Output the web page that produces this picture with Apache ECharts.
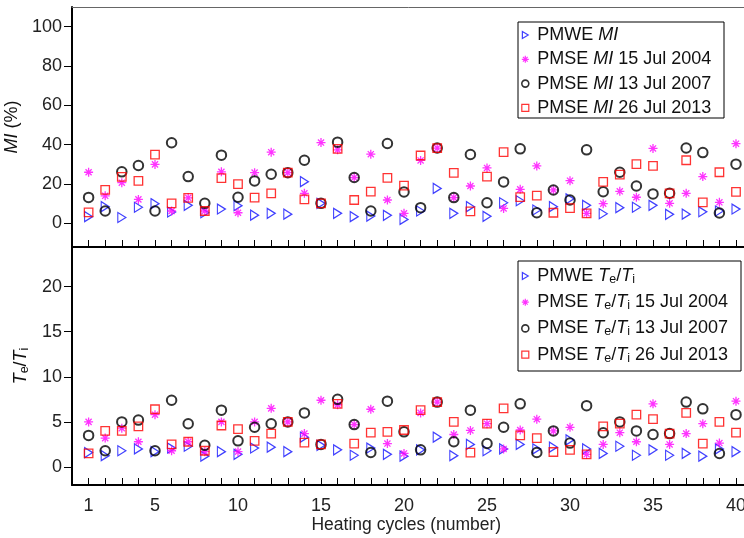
<!DOCTYPE html>
<html>
<head>
<meta charset="utf-8">
<script src="https://cdn.jsdelivr.net/npm/echarts@6/dist/echarts.min.js"></script>
<style>
  html, body { margin: 0; padding: 0; background: #fff; }
  #chart { width: 744px; height: 538px; }
</style>
</head>
<body>
<div id="chart"></div>
<script>
// Heating cycle numbers (x axis)
const cycles = [1, 2, 3, 4, 5, 6, 7, 8, 9, 10, 11, 12, 13, 14, 15, 16, 17, 18, 19, 20,
                21, 22, 23, 24, 25, 26, 27, 28, 29, 30, 31, 32, 33, 34, 35, 36, 37, 38, 39, 40];
const xTickLabels = [1, 5, 10, 15, 20, 25, 30, 35, 40];
const miTicks = [0, 20, 40, 60, 80, 100];
const teTicks = [0, 5, 10, 15, 20];

// Modulation index MI (%)
const miPMWE = [3.4, 8.5, 3, 8.2, 10, 5.8, 9.2, 5.4, 7.3, 9, 4.2, 5.1, 4.7, 21.2, 10.2, 5.1, 3.4, 3.7, 4.1, 2,
                6.3, 17.8, 5.1, 8.5, 3.6, 10.5, 11.5, 6.8, 8.5, 12.5, 9.2, 4.9, 8, 8.2, 9.2, 4.6, 4.7, 5.9, 6.3, 7.3];
const miPMSE2004 = [26, 14, 20.7, 12.2, 30, 6.3, 13, 6.3, 26.2, 5.4, 25.8, 36.2, 25.8, 15.3, 41.1, 37.4, 23.3, 35.2, 11.9, 5.1,
                    32, 38.3, 13.1, 19, 28.2, 7.6, 17.3, 29.2, 17, 21.7, 5.1, 10, 16.3, 13.3, 38.1, 10.2, 15.3, 23.8, 10.7, 40.5];
const miPMSE2007 = [13.2, 6.3, 26.2, 29.4, 6.3, 41, 23.8, 10.2, 34.7, 13.3, 21.6, 25, 25.8, 32.1, 10.2, 41.3, 23.3, 6.3, 40.6, 16,
                    8, 38.3, 13.1, 35, 10.5, 21.1, 37.9, 5.4, 17, 11.9, 37.4, 16.1, 26, 19, 15, 15.3, 38.3, 36, 5.3, 30.1];
const miPMSE2013 = [5.6, 17, 23.6, 21.6, 35, 10.2, 13, 6.3, 23, 20, 13.1, 15.3, 25.8, 12.2, 10.2, 37.9, 11.9, 16.1, 23.1, 19.2,
                    34.5, 38.3, 25.7, 6.1, 23.8, 36.2, 13.4, 14.1, 5.4, 7.8, 5.1, 21.1, 24.8, 30.1, 29.2, 15.3, 32.1, 10.7, 26, 16];

// Temperature ratio Te/Ti
const tePMWE = [1.6, 1.25, 1.8, 2.0, 1.7, 2.1, 2.3, 1.2, 1.7, 1.4, 2.1, 2.2, 1.7, 3.3, 2.4, 1.9, 1.3, 2.1, 1.4, 1.2,
                1.9, 3.3, 1.25, 2.5, 1.8, 2.0, 2.5, 2.0, 2.2, 3.0, 2.0, 1.5, 2.3, 1.3, 1.9, 1.3, 1.5, 1.2, 2.0, 1.7];
const tePMSE2004 = [5.0, 3.2, 4.3, 2.8, 5.8, 1.8, 2.8, 1.7, 5.0, 1.7, 5.0, 6.5, 5.0, 3.7, 7.4, 6.9, 4.7, 6.4, 2.6, 1.5,
                    6.0, 7.2, 3.6, 4.05, 4.8, 2.0, 4.1, 5.3, 4.0, 4.4, 1.4, 2.5, 3.8, 2.8, 7.0, 2.5, 3.7, 4.8, 2.65, 7.3];
const tePMSE2007 = [3.5, 1.8, 5.0, 5.2, 1.8, 7.4, 4.8, 2.4, 6.3, 2.9, 4.4, 4.8, 5.0, 6.0, 2.5, 7.5, 4.7, 1.6, 7.3, 3.9,
                    1.9, 7.2, 2.8, 6.3, 2.6, 4.4, 7.0, 1.6, 4.0, 2.65, 6.8, 3.8, 5.0, 4.0, 3.6, 3.7, 7.2, 6.45, 1.5, 5.8];
const tePMSE2013 = [1.5, 4.0, 4.0, 4.5, 6.4, 2.5, 2.8, 1.8, 4.6, 4.2, 2.9, 3.7, 5.0, 2.7, 2.5, 7.0, 2.6, 3.8, 3.9, 4.1,
                    6.3, 7.2, 5.0, 1.6, 4.8, 6.5, 3.5, 3.2, 1.66, 1.9, 1.4, 4.5, 4.8, 5.8, 5.3, 3.7, 6.0, 2.6, 5.0, 3.8];

const seriesSuffix = ['', ' 15 Jul 2004', ' 13 Jul 2007', ' 26 Jul 2013'];
const seriesPrefix = ['PMWE ', 'PMSE ', 'PMSE ', 'PMSE '];
const miNames = ['PMWE MI', 'PMSE MI 15 Jul 2004', 'PMSE MI 13 Jul 2007', 'PMSE MI 26 Jul 2013'];
const teNames = ['PMWE Te/Ti', 'PMSE Te/Ti 15 Jul 2004', 'PMSE Te/Ti 13 Jul 2007', 'PMSE Te/Ti 26 Jul 2013'];

const FONT = '"Liberation Sans", Arial, sans-serif';
const TRI = 'path://M0,0L10,6L0,12Z';
const STAR = 'path://M5,0L5,10M0,5L10,5M1.6,1.6L8.4,8.4M8.4,1.6L1.6,8.4';
const SQUARE = 'path://M0,0L10,0L10,10L0,10Z';

const markStyles = [
  { symbol: TRI, size: [8, 10], color: '#1010ff', width: 1.2 },
  { symbol: STAR, size: 9, color: '#ff00ff', width: 1.3 },
  { symbol: 'circle', size: 9.5, color: '#000000', width: 2 },
  { symbol: SQUARE, size: 8.5, color: '#ff0000', width: 1.3 }
];

const richText = {
  r: { fontSize: 18, fontFamily: FONT, color: '#111', lineHeight: 20, verticalAlign: 'middle' },
  i: { fontSize: 18, fontFamily: FONT, color: '#111', fontStyle: 'italic', lineHeight: 20, verticalAlign: 'middle' },
  s: { fontSize: 12.5, fontFamily: FONT, color: '#111', lineHeight: 7, verticalAlign: 'bottom' }
};
const teRich = '{i|T}{s|e}{r|/}{i|T}{s|i}';

function pairs(vals) {
  return cycles.map((c, k) => [c, vals[k]]);
}

function makeSeries(names, values, axis) {
  return values.map((vals, k) => ({
    name: names[k],
    type: 'scatter',
    xAxisIndex: axis,
    yAxisIndex: axis,
    data: pairs(vals),
    symbol: markStyles[k].symbol,
    symbolSize: markStyles[k].size,
    itemStyle: { color: 'rgba(0,0,0,0)', borderColor: markStyles[k].color, borderWidth: markStyles[k].width },
    emphasis: { disabled: true },
    z: 2 + k
  }));
}

function legendData(names) {
  return names.map((n, k) => ({
    name: n,
    icon: markStyles[k].symbol,
    itemStyle: { color: 'rgba(0,0,0,0)', borderColor: markStyles[k].color, borderWidth: k === 2 ? 1.6 : 1.2 }
  }));
}

// Framed legend panels
function legendFrame(x, y, w, h) {
  return {
    type: 'rect', left: x, top: y, z: 3, silent: true,
    shape: { width: w, height: h },
    style: { fill: '#fff', stroke: '#000', lineWidth: 1 }
  };
}

const GRID_W = 680.6;

const option = {
  animation: false,
  backgroundColor: '#fff',
  grid: [
    { left: 72, top: 7, width: GRID_W, height: 240, outerBoundsMode: 'none', containLabel: false },
    { left: 72, top: 247, width: GRID_W, height: 238, outerBoundsMode: 'none', containLabel: false }
  ],
  graphic: [
    legendFrame(517.5, 21.5, 206, 96),
    legendFrame(517.5, 260.5, 223, 110)
  ],
  xAxis: [
    {
      gridIndex: 0, type: 'value', min: 0, max: 41,
      axisLine: { onZero: false, lineStyle: { color: '#000', width: 2 } },
      axisTick: { inside: true, length: 7, customValues: cycles, lineStyle: { color: '#000', width: 1 } },
      axisLabel: { show: false }, splitLine: { show: false }
    },
    {
      gridIndex: 1, type: 'value', min: 0, max: 41,
      axisLine: { onZero: false, lineStyle: { color: '#000', width: 2 } },
      axisTick: { inside: true, length: 7, customValues: cycles, lineStyle: { color: '#000', width: 1 } },
      axisLabel: { customValues: xTickLabels, margin: 12, fontSize: 18, fontFamily: FONT, color: '#222' },
      splitLine: { show: false },
      name: 'Heating cycles (number)', nameLocation: 'middle', nameGap: 30,
      nameTextStyle: { fontSize: 17.5, fontFamily: FONT, color: '#222', padding: [0, 12, 0, 0] }
    },
    {
      gridIndex: 0, type: 'value', min: 0, max: 41, position: 'top',
      axisLine: { onZero: false, lineStyle: { color: '#666', width: 1 } },
      axisTick: { show: false }, axisLabel: { show: false }, splitLine: { show: false }
    }
  ],
  yAxis: [
    {
      gridIndex: 0, type: 'value', min: -12, max: 110,
      axisLine: { show: true, onZero: false, lineStyle: { color: '#000', width: 2 } },
      axisTick: { show: true, length: 8, customValues: miTicks, lineStyle: { color: '#000', width: 1 } },
      axisLabel: { customValues: miTicks, margin: 10, fontSize: 18, fontFamily: FONT, color: '#222' },
      splitLine: { show: false },
      name: '{i|MI}{r| (%)}', nameLocation: 'middle', nameGap: 29,
      nameTextStyle: { rich: richText }
    },
    {
      gridIndex: 1, type: 'value', min: -2, max: 24.4,
      axisLine: { show: true, onZero: false, lineStyle: { color: '#000', width: 2 } },
      axisTick: { show: true, length: 8, customValues: teTicks, lineStyle: { color: '#000', width: 1 } },
      axisLabel: { customValues: teTicks, margin: 10, fontSize: 18, fontFamily: FONT, color: '#222' },
      splitLine: { show: false },
      name: teRich, nameLocation: 'middle', nameGap: 32,
      nameTextStyle: { rich: richText }
    }
  ],
  legend: [
    {
      orient: 'vertical', align: 'left', left: 521, top: 26, z: 5,
      data: legendData(miNames),
      itemWidth: 14, itemHeight: 7, itemGap: 6.3,
      padding: 0,
      selectedMode: false,
      textStyle: { fontSize: 18, fontFamily: FONT, color: '#111', rich: richText },
      formatter: name => {
        const k = miNames.indexOf(name);
        return '{r|' + seriesPrefix[k] + '}{i|MI}' + (seriesSuffix[k] ? '{r|' + seriesSuffix[k] + '}' : '');
      }
    },
    {
      orient: 'vertical', align: 'left', left: 521, top: 267, z: 5,
      data: legendData(teNames),
      itemWidth: 14, itemHeight: 7, itemGap: 7.2,
      padding: 0,
      selectedMode: false,
      textStyle: { fontSize: 18, fontFamily: FONT, color: '#111', rich: richText },
      formatter: name => {
        const k = teNames.indexOf(name);
        return '{r|' + seriesPrefix[k] + '}' + teRich + (seriesSuffix[k] ? '{r|' + seriesSuffix[k] + '}' : '');
      }
    }
  ],
  series: [
    ...makeSeries(miNames, [miPMWE, miPMSE2004, miPMSE2007, miPMSE2013], 0),
    ...makeSeries(teNames, [tePMWE, tePMSE2004, tePMSE2007, tePMSE2013], 1)
  ]
};

const chart = echarts.init(document.getElementById('chart'), null, { renderer: 'canvas' });
chart.setOption(option);
</script>
</body>
</html>
